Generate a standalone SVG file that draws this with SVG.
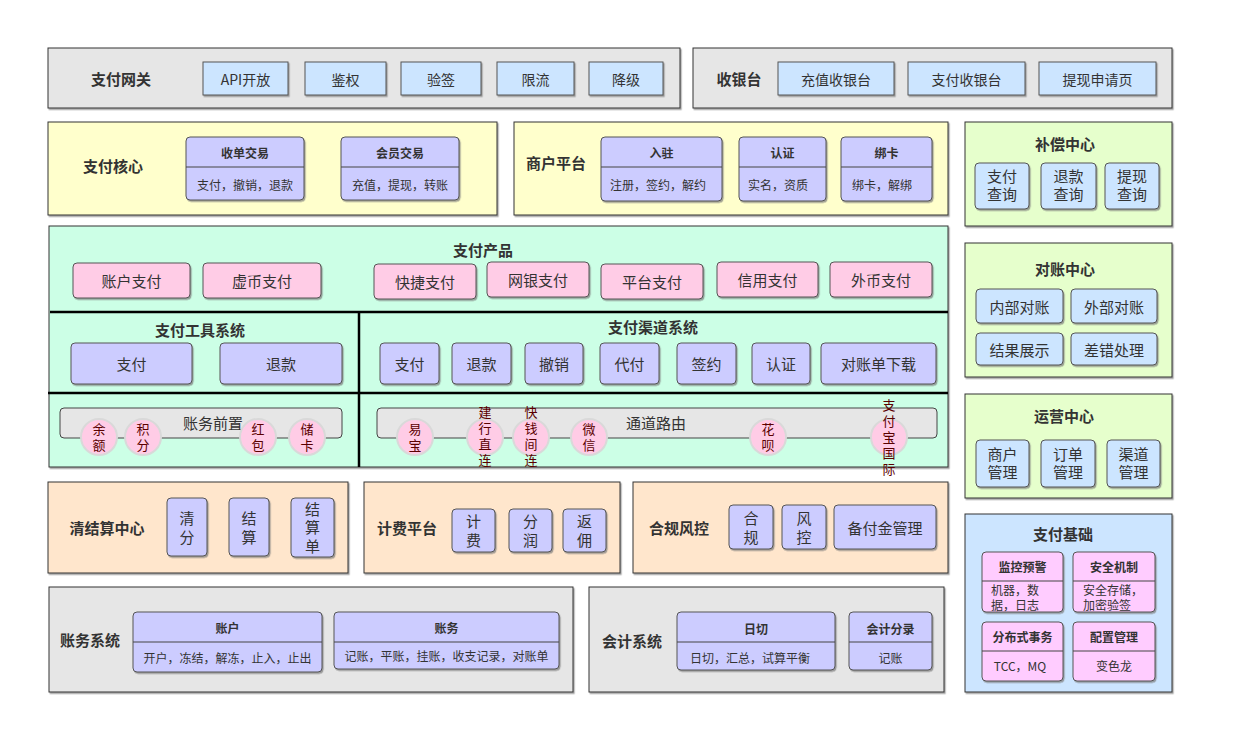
<svg xmlns="http://www.w3.org/2000/svg" width="1234" height="754" viewBox="0 0 1234 754">
  <defs>
    <filter id="sh" x="-5%" y="-5%" width="115%" height="120%">
      <feDropShadow dx="1.2" dy="1.5" stdDeviation="0.6" flood-color="#7a7a7a" flood-opacity="0.7"/>
    </filter>
  </defs>
  <style>
    text { font-family: "Noto Sans CJK SC", "Noto Sans", sans-serif; fill: #333; text-anchor: middle; dominant-baseline: central; }
    .panel { stroke: #333; stroke-width: 1; filter: url(#sh); }
    .gray { fill: #e6e6e6; }
    .yellow { fill: #ffffcc; }
    .mint { fill: #ccffe6; }
    .lime { fill: #e6ffcc; }
    .peach { fill: #ffe6cc; }
    .sky { fill: #cce5ff; }
    .box { stroke: #555; stroke-width: 1; filter: url(#sh); }
    .blue { fill: #cce5ff; }
    .lav { fill: #ccccff; }
    .pink { fill: #ffcce6; }
    .mag { fill: #ffccff; }
    .bar { fill: #e6e6e6; stroke: #444; stroke-width: 1; }
    .div { stroke: #444; stroke-width: 1; }
    .sep { stroke: #000; stroke-width: 2.5; }
    .dot { fill: #ffcce6; stroke: #d9d9d9; stroke-width: 2; }
    .t { font-size: 15px; font-weight: bold; }
    .l { font-size: 14px; }
    .m { font-size: 15px; }
    .m2 { font-size: 15px; font-family: "Liberation Sans", "Noto Sans CJK SC", sans-serif; }
    .h { font-size: 12px; font-weight: bold; }
    .s { font-size: 12px; }
    .c { font-size: 13px; fill: #5a0000; writing-mode: vertical-rl; letter-spacing: 3px; }
    .v { font-size: 15px; writing-mode: vertical-rl; letter-spacing: 4px; }
    .start { text-anchor: start; }
  </style>

  <!-- Gateway -->
  <g id="gateway">
    <rect class="panel gray" x="48" y="48" width="632" height="60"/>
    <text class="t" x="121" y="78">支付网关</text>
    <rect class="box blue" x="203" y="62" width="85" height="33"/><text class="l" x="245.5" y="78.5">API开放</text>
    <rect class="box blue" x="305" y="62" width="81" height="33"/><text class="l" x="345.5" y="78.5">鉴权</text>
    <rect class="box blue" x="401" y="62" width="80" height="33"/><text class="l" x="441" y="78.5">验签</text>
    <rect class="box blue" x="497" y="62" width="77" height="33"/><text class="l" x="535.5" y="78.5">限流</text>
    <rect class="box blue" x="589" y="62" width="74" height="33"/><text class="l" x="626" y="78.5">降级</text>
  </g>

  <!-- Cashier -->
  <g id="cashier">
    <rect class="panel gray" x="693" y="48" width="479" height="60"/>
    <text class="t" x="739" y="78">收银台</text>
    <rect class="box blue" x="778" y="62" width="116" height="33"/><text class="l" x="836" y="78.5">充值收银台</text>
    <rect class="box blue" x="908" y="62" width="117" height="33"/><text class="l" x="966.5" y="78.5">支付收银台</text>
    <rect class="box blue" x="1039" y="62" width="117" height="33"/><text class="l" x="1097.5" y="78.5">提现申请页</text>
  </g>

  <!-- Payment core -->
  <g id="pay-core">
    <rect class="panel yellow" x="48" y="122" width="449" height="93"/>
    <text class="t" x="113" y="165">支付核心</text>
    <rect class="box lav" x="186" y="137" width="118" height="63" rx="4"/>
    <line class="div" x1="186" y1="167" x2="304" y2="167"/>
    <text class="h" x="245" y="152.5">收单交易</text>
    <text class="s" x="245" y="184">支付，撤销，退款</text>
    <rect class="box lav" x="341" y="137" width="118" height="63" rx="4"/>
    <line class="div" x1="341" y1="167" x2="459" y2="167"/>
    <text class="h" x="400" y="152.5">会员交易</text>
    <text class="s" x="400" y="184">充值，提现，转账</text>
  </g>

  <!-- Merchant platform -->
  <g id="merchant">
    <rect class="panel yellow" x="514" y="122" width="434" height="93"/>
    <text class="t" x="556" y="162">商户平台</text>
    <rect class="box lav" x="601" y="137" width="121" height="64" rx="4"/>
    <line class="div" x1="601" y1="167" x2="722" y2="167"/>
    <text class="h" x="661.5" y="152.5">入驻</text>
    <text class="s" x="658" y="184">注册，签约，解约</text>
    <rect class="box lav" x="739" y="137" width="87" height="64" rx="4"/>
    <line class="div" x1="739" y1="167" x2="826" y2="167"/>
    <text class="h" x="782.5" y="152.5">认证</text>
    <text class="s" x="778" y="184">实名，资质</text>
    <rect class="box lav" x="841" y="137" width="91" height="64" rx="4"/>
    <line class="div" x1="841" y1="167" x2="932" y2="167"/>
    <text class="h" x="886.5" y="152.5">绑卡</text>
    <text class="s" x="882" y="184">绑卡，解绑</text>
  </g>

  <!-- Compensation center -->
  <g id="compensation">
    <rect class="panel lime" x="965" y="122" width="207" height="104"/>
    <text class="t" x="1065" y="143">补偿中心</text>
    <rect class="box blue" x="975" y="163" width="54" height="46" rx="4"/>
    <text class="m2" x="1002" y="176">支付</text><text class="m2" x="1002" y="194">查询</text>
    <rect class="box blue" x="1041" y="163" width="55" height="46" rx="4"/>
    <text class="m2" x="1068.5" y="176">退款</text><text class="m2" x="1068.5" y="194">查询</text>
    <rect class="box blue" x="1105" y="163" width="54" height="46" rx="4"/>
    <text class="m2" x="1132" y="176">提现</text><text class="m2" x="1132" y="194">查询</text>
  </g>

  <!-- Payment products -->
  <g id="pay-products">
    <rect class="panel mint" x="49" y="226" width="899" height="241"/>
    <text class="t" x="483" y="249">支付产品</text>
    <rect class="box pink" x="73" y="263" width="117" height="35" rx="4"/><text class="m" x="131.5" y="280.5">账户支付</text>
    <rect class="box pink" x="203" y="263" width="118" height="35" rx="4"/><text class="m" x="262" y="280.5">虚币支付</text>
    <rect class="box pink" x="374" y="264" width="102" height="35" rx="4"/><text class="m" x="425" y="281.5">快捷支付</text>
    <rect class="box pink" x="487" y="262" width="102" height="35" rx="4"/><text class="m" x="538" y="279.5">网银支付</text>
    <rect class="box pink" x="601" y="264" width="102" height="35" rx="4"/><text class="m" x="652" y="281.5">平台支付</text>
    <rect class="box pink" x="717" y="262" width="101" height="35" rx="4"/><text class="m" x="767.5" y="279.5">信用支付</text>
    <rect class="box pink" x="830" y="262" width="102" height="35" rx="4"/><text class="m" x="881" y="279.5">外币支付</text>
    <line class="sep" x1="50" y1="312" x2="948" y2="312"/>
    <line class="sep" x1="48" y1="393" x2="948" y2="393"/>
    <line class="sep" x1="359" y1="312" x2="359" y2="467"/>
  </g>

  <!-- Payment tool system -->
  <g id="pay-tools">
    <text class="t" x="200" y="329">支付工具系统</text>
    <rect class="box lav" x="71" y="343" width="121" height="41" rx="4"/><text class="m" x="131.5" y="363.5">支付</text>
    <rect class="box lav" x="220" y="343" width="122" height="41" rx="4"/><text class="m" x="281" y="363.5">退款</text>
  </g>

  <!-- Payment channel system -->
  <g id="pay-channels">
    <text class="t" x="653" y="326">支付渠道系统</text>
    <rect class="box lav" x="380" y="343" width="59" height="41" rx="4"/><text class="m" x="409.5" y="363.5">支付</text>
    <rect class="box lav" x="452" y="343" width="59" height="41" rx="4"/><text class="m" x="481.5" y="363.5">退款</text>
    <rect class="box lav" x="525" y="343" width="58" height="41" rx="4"/><text class="m" x="554" y="363.5">撤销</text>
    <rect class="box lav" x="600" y="343" width="59" height="41" rx="4"/><text class="m" x="629.5" y="363.5">代付</text>
    <rect class="box lav" x="677" y="343" width="59" height="41" rx="4"/><text class="m" x="706.5" y="363.5">签约</text>
    <rect class="box lav" x="752" y="343" width="58" height="41" rx="4"/><text class="m" x="781" y="363.5">认证</text>
    <rect class="box lav" x="821" y="343" width="115" height="41" rx="4"/><text class="m" x="878.5" y="363.5">对账单下载</text>
  </g>

  <!-- Accounting front -->
  <g id="account-front">
    <rect class="bar" x="60" y="408" width="282" height="30" rx="4"/>
    <text class="m" x="213" y="422">账务前置</text>
    <circle class="dot" cx="99" cy="437" r="18"/><text class="c" x="99" y="438.5">余额</text>
    <circle class="dot" cx="143" cy="437" r="18"/><text class="c" x="143" y="438.5">积分</text>
    <circle class="dot" cx="258" cy="437" r="18"/><text class="c" x="258" y="438.5">红包</text>
    <circle class="dot" cx="307" cy="437" r="18"/><text class="c" x="307" y="438.5">储卡</text>
  </g>

  <!-- Channel routing -->
  <g id="channel-routing">
    <rect class="bar" x="377" y="408" width="560" height="30" rx="4"/>
    <text class="m" x="656" y="422">通道路由</text>
    <circle class="dot" cx="415" cy="437" r="18"/><text class="c" x="415" y="438.5">易宝</text>
    <circle class="dot" cx="485" cy="437" r="18"/><text class="c" x="485" y="437.5">建行直连</text>
    <circle class="dot" cx="531" cy="437" r="18"/><text class="c" x="531" y="437.5">快钱间连</text>
    <circle class="dot" cx="589" cy="437" r="18"/><text class="c" x="589" y="438.5">微信</text>
    <circle class="dot" cx="768" cy="437" r="18"/><text class="c" x="768" y="438.5">花呗</text>
    <circle class="dot" cx="889" cy="437" r="18"/><text class="c" x="889" y="438.5">支付宝国际</text>
  </g>

  <!-- Reconciliation center -->
  <g id="reconciliation">
    <rect class="panel lime" x="965" y="243" width="207" height="134"/>
    <text class="t" x="1065" y="268">对账中心</text>
    <rect class="box blue" x="976" y="289" width="87" height="34" rx="4"/><text class="m" x="1019.5" y="306">内部对账</text>
    <rect class="box blue" x="1071" y="289" width="86" height="34" rx="4"/><text class="m" x="1114" y="306">外部对账</text>
    <rect class="box blue" x="976" y="333" width="87" height="32" rx="4"/><text class="m" x="1019.5" y="349">结果展示</text>
    <rect class="box blue" x="1071" y="333" width="86" height="32" rx="4"/><text class="m" x="1114" y="349">差错处理</text>
  </g>

  <!-- Operations center -->
  <g id="operations">
    <rect class="panel lime" x="965" y="394" width="207" height="104"/>
    <text class="t" x="1064" y="415">运营中心</text>
    <rect class="box blue" x="976" y="440" width="53" height="47" rx="4"/>
    <text class="m2" x="1002.5" y="454">商户</text><text class="m2" x="1002.5" y="472">管理</text>
    <rect class="box blue" x="1041" y="440" width="54" height="47" rx="4"/>
    <text class="m2" x="1068" y="454">订单</text><text class="m2" x="1068" y="472">管理</text>
    <rect class="box blue" x="1107" y="440" width="53" height="47" rx="4"/>
    <text class="m2" x="1133.5" y="454">渠道</text><text class="m2" x="1133.5" y="472">管理</text>
  </g>

  <!-- Payment foundation -->
  <g id="foundation">
    <rect class="panel sky" x="965" y="514" width="207" height="178"/>
    <text class="t" x="1063" y="533">支付基础</text>
    <rect class="box mag" x="982" y="552" width="81" height="60" rx="4"/>
    <line class="div" x1="982" y1="581" x2="1063" y2="581"/>
    <text class="h" x="1022.5" y="566">监控预警</text>
    <text class="s start" x="991" y="589">机器，数<tspan x="991" dy="15">据，日志</tspan></text>
    <rect class="box mag" x="1073" y="552" width="82" height="60" rx="4"/>
    <line class="div" x1="1073" y1="581" x2="1155" y2="581"/>
    <text class="h" x="1114" y="566">安全机制</text>
    <text class="s start" x="1083" y="589">安全存储，<tspan x="1083" dy="15">加密验签</tspan></text>
    <rect class="box mag" x="982" y="622" width="81" height="59" rx="4"/>
    <line class="div" x1="982" y1="651" x2="1063" y2="651"/>
    <text class="h" x="1022.5" y="636">分布式事务</text>
    <text class="s" x="1020" y="665">TCC，MQ</text>
    <rect class="box mag" x="1073" y="622" width="82" height="59" rx="4"/>
    <line class="div" x1="1073" y1="651" x2="1155" y2="651"/>
    <text class="h" x="1114" y="636">配置管理</text>
    <text class="s" x="1114" y="665">变色龙</text>
  </g>

  <!-- Clearing and settlement -->
  <g id="clearing">
    <rect class="panel peach" x="48" y="482" width="300" height="91"/>
    <text class="t" x="107" y="527">清结算中心</text>
    <rect class="box lav" x="167" y="498" width="40" height="58" rx="4"/>
    <text class="v" x="187" y="529.5">清分</text>
    <rect class="box lav" x="229" y="498" width="40" height="58" rx="4"/>
    <text class="v" x="249" y="529.5">结算</text>
    <rect class="box lav" x="291" y="498" width="43" height="59" rx="4"/>
    <text class="v" x="312.5" y="529.5" style="letter-spacing:3.5px">结算单</text>
  </g>

  <!-- Billing platform -->
  <g id="billing">
    <rect class="panel peach" x="364" y="482" width="256" height="91"/>
    <text class="t" x="407" y="527">计费平台</text>
    <rect class="box lav" x="452" y="509" width="43" height="43" rx="4"/>
    <text class="v" x="473.5" y="532.5">计费</text>
    <rect class="box lav" x="509" y="509" width="43" height="43" rx="4"/>
    <text class="v" x="530.5" y="532.5">分润</text>
    <rect class="box lav" x="563" y="509" width="43" height="43" rx="4"/>
    <text class="v" x="584.5" y="532.5">返佣</text>
  </g>

  <!-- Compliance and risk -->
  <g id="risk">
    <rect class="panel peach" x="633" y="482" width="315" height="91"/>
    <text class="t" x="679" y="527">合规风控</text>
    <rect class="box lav" x="729" y="505" width="44" height="44" rx="4"/>
    <text class="v" x="751" y="529.5">合规</text>
    <rect class="box lav" x="782" y="505" width="44" height="44" rx="4"/>
    <text class="v" x="804" y="529.5">风控</text>
    <rect class="box lav" x="834" y="505" width="102" height="44" rx="4"/>
    <text class="m" x="885" y="527">备付金管理</text>
  </g>

  <!-- Ledger system -->
  <g id="ledger">
    <rect class="panel gray" x="49" y="587" width="524" height="105"/>
    <text class="t" x="90" y="639">账务系统</text>
    <rect class="box lav" x="133" y="612" width="189" height="60" rx="4"/>
    <line class="div" x1="133" y1="642" x2="322" y2="642"/>
    <text class="h" x="227.5" y="627">账户</text>
    <text class="s" x="227.5" y="657">开户，冻结，解冻，止入，止出</text>
    <rect class="box lav" x="334" y="612" width="225" height="57" rx="4"/>
    <line class="div" x1="334" y1="642" x2="559" y2="642"/>
    <text class="h" x="446.5" y="627">账务</text>
    <text class="s" x="446.5" y="655">记账，平账，挂账，收支记录，对账单</text>
  </g>

  <!-- Accounting system -->
  <g id="accounting">
    <rect class="panel gray" x="589" y="587" width="355" height="105"/>
    <text class="t" x="632" y="640">会计系统</text>
    <rect class="box lav" x="677" y="612" width="158" height="58" rx="4"/>
    <line class="div" x1="677" y1="642" x2="835" y2="642"/>
    <text class="h" x="756" y="628">日切</text>
    <text class="s" x="750" y="657">日切，汇总，试算平衡</text>
    <rect class="box lav" x="849" y="612" width="83" height="58" rx="4"/>
    <line class="div" x1="849" y1="642" x2="932" y2="642"/>
    <text class="h" x="890.5" y="628">会计分录</text>
    <text class="s" x="890.5" y="657">记账</text>
  </g>

  <g id="connectors"/>
</svg>
